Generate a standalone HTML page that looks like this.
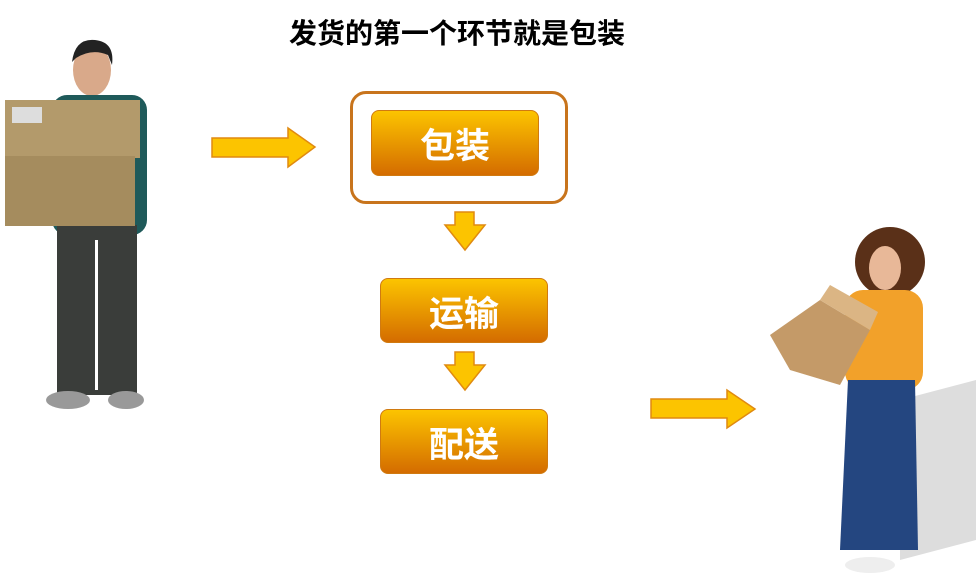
<!DOCTYPE html>
<html><head><meta charset="utf-8"><style>
body{margin:0;width:976px;height:584px;background:#fff;position:relative;overflow:hidden;font-family:"Liberation Sans","Noto Sans CJK SC",sans-serif}
.t{position:absolute;left:0;width:914px;top:12px;text-align:center;font-size:28px;font-weight:bold;color:#000}
.b{position:absolute;border-radius:8px;background:linear-gradient(#fcc400,#d46c00);border:1px solid #d07a10;color:#fff;font-weight:bold;font-size:35px;text-align:center;box-sizing:border-box;padding-top:6px}
</style></head><body>
<div class="t">发货的第一个环节就是包装</div>
<div style="position:absolute;left:350px;top:91px;width:218px;height:113px;border:3px solid #c8741c;border-radius:16px;box-sizing:border-box"></div>
<div class="b" style="left:371px;top:110px;width:168px;height:66px;line-height:60px">包装</div>
<div class="b" style="left:380px;top:278px;width:168px;height:65px;line-height:60px">运输</div>
<div class="b" style="left:380px;top:409px;width:168px;height:65px;line-height:60px">配送</div>
<svg width="976" height="584" style="position:absolute;left:0;top:0">
<g fill="#fcc400" stroke="#e08a10" stroke-width="1.5">
<polygon points="212,138 288,138 288,128 315,147 288,167 288,157 212,157"/>
<polygon points="455,212 474,212 474,225 485,225 465,250 445,225 455,225"/>
<polygon points="455,352 474,352 474,365 485,365 465,390 445,365 455,365"/>
<polygon points="651,399 727,399 727,390 755,409 727,428 727,418 651,418"/>
</g>
<ellipse cx="92" cy="70" rx="19" ry="26" fill="#d9a98a"/>
<path d="M72 62 Q75 38 95 40 Q115 42 112 65 L108 55 Q92 48 76 58Z" fill="#222"/>
<rect x="52" y="95" width="95" height="140" rx="15" fill="#1f5a5a"/>
<rect x="57" y="225" width="80" height="170" fill="#3a3d3a"/>
<rect x="95" y="240" width="3" height="150" fill="#fff"/>
<ellipse cx="68" cy="400" rx="22" ry="9" fill="#999"/>
<ellipse cx="126" cy="400" rx="18" ry="9" fill="#999"/>
<rect x="5" y="100" width="135" height="58" fill="#b39a6b"/>
<rect x="5" y="156" width="130" height="70" fill="#a58c5e"/>
<rect x="12" y="107" width="30" height="16" fill="#ddd"/>
<polygon points="900,400 976,380 976,540 900,560" fill="#ddd"/>
<ellipse cx="890" cy="262" rx="35" ry="35" fill="#5a3018"/>
<ellipse cx="885" cy="268" rx="16" ry="22" fill="#e8b898"/>
<rect x="845" y="290" width="78" height="100" rx="18" fill="#f2a12a"/>
<path d="M848 380 L915 380 L918 550 L840 550Z" fill="#244680"/>
<ellipse cx="870" cy="565" rx="25" ry="8" fill="#eee"/>
<polygon points="770,335 820,300 870,330 840,385 790,370" fill="#c49a68"/>
<polygon points="820,300 870,330 878,312 830,285" fill="#dbb584"/>
</svg>
</body></html>
